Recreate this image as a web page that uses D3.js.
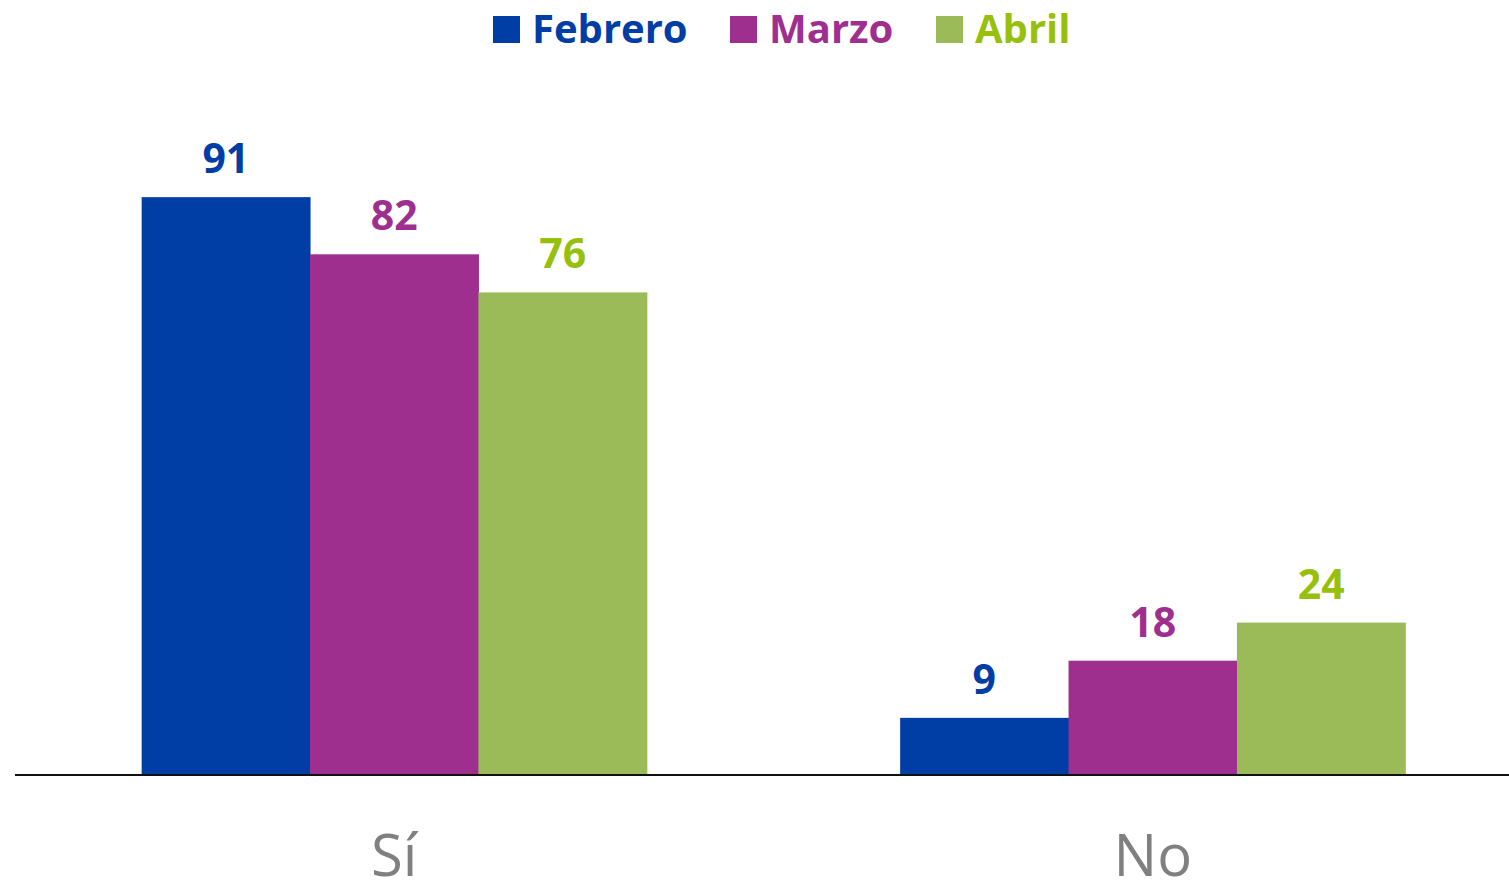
<!DOCTYPE html>
<html>
<head>
<meta charset="utf-8">
<script src="https://cdn.jsdelivr.net/npm/d3@7"></script>
<style>
  html, body { margin: 0; padding: 0; background: #fff; }
  svg { display: block; }
</style>
</head>
<body>
<svg id="chart" width="1509" height="882"></svg>
<script>
// Answers by month
const categories = ["Sí", "No"];
const months = ["Febrero", "Marzo", "Abril"];
const febrero = [91, 9];
const marzo = [82, 18];
const abril = [76, 24];

const barColors = { Febrero: "#003DA5", Marzo: "#9E2F8F", Abril: "#9BBB59" };
const textColors = { Febrero: "#003DA5", Marzo: "#9E2F8F", Abril: "#97BF0D" };

const seriesValues = { Febrero: febrero, Marzo: marzo, Abril: abril };

const svg = d3.select("#chart");
const baseY = 775;
const font = "'Open Sans', 'DejaVu Sans', sans-serif";

const x0 = d3.scaleBand().domain(categories).range([15, 1532]).paddingInner(0.334).paddingOuter(0.167);
const x1 = d3.scaleBand().domain(months).range([0, x0.bandwidth()]);
const y = d3.scaleLinear().domain([0, 100]).range([baseY, 140]);

const rows = categories.map((c, i) => ({
  cat: c,
  items: months.map(m => ({ month: m, value: seriesValues[m][i] }))
}));

const groups = svg.selectAll("g.group").data(rows).join("g")
  .attr("class", "group")
  .attr("transform", d => `translate(${x0(d.cat)},0)`);

groups.selectAll("rect").data(d => d.items).join("rect")
  .attr("x", d => x1(d.month))
  .attr("width", x1.bandwidth() + 0.5)
  .attr("y", d => y(d.value))
  .attr("height", d => baseY - y(d.value))
  .attr("fill", d => barColors[d.month]);

groups.selectAll("text.val").data(d => d.items).join("text")
  .attr("class", "val")
  .attr("x", d => x1(d.month) + x1.bandwidth() / 2)
  .attr("y", d => y(d.value) - 24)
  .attr("text-anchor", "middle")
  .attr("font-family", font)
  .attr("font-weight", 700)
  .attr("font-size", 41)
  .attr("fill", d => textColors[d.month])
  .text(d => d.value);

// Baseline axis
const xAxis = d3.axisBottom(x0).tickSize(0).tickPadding(0);
const axisG = svg.append("g").attr("transform", `translate(0,${baseY})`).call(xAxis);
axisG.select(".domain").remove();
axisG.selectAll("text")
  .attr("y", 101)
  .attr("dy", 0)
  .attr("font-family", font)
  .attr("font-size", 58)
  .attr("fill", "#808080");

svg.append("line")
  .attr("x1", 15).attr("x2", 1509)
  .attr("y1", baseY).attr("y2", baseY)
  .attr("stroke", "#111").attr("stroke-width", 2);

// Legend
const legendX = [493, 730, 936];
const legend = svg.selectAll("g.legend").data(months).join("g")
  .attr("class", "legend")
  .attr("transform", (d, i) => `translate(${legendX[i]},0)`);
legend.append("rect")
  .attr("x", 0).attr("y", 16).attr("width", 27).attr("height", 27)
  .attr("fill", d => barColors[d]);
legend.append("text")
  .attr("x", 39).attr("y", 43)
  .attr("font-family", font)
  .attr("font-weight", 700)
  .attr("font-size", 40)
  .attr("fill", d => textColors[d])
  .text(d => d);
</script>
</body>
</html>
